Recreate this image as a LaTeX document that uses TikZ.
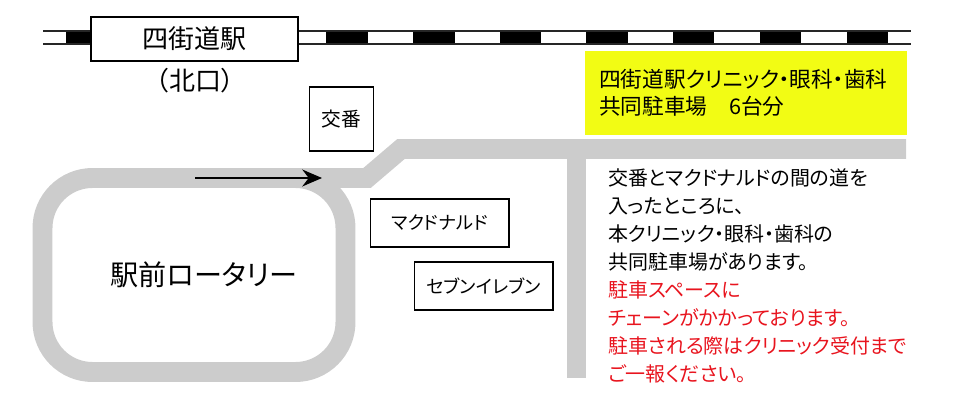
\documentclass[tikz,border=0pt]{standalone}
\usepackage{xcolor}
\usepackage{fontspec}
\setmainfont[RawFeature=+palt]{Noto Sans CJK JP}
\usetikzlibrary{arrows.meta}
\definecolor{roadgray}{HTML}{CCCCCC}
\definecolor{parkyellow}{HTML}{F2FC14}
\definecolor{noticered}{HTML}{E8141E}
\tikzset{
    road/.style={draw=roadgray, line width=14.2pt, line join=miter},
    shopbox/.style={draw, fill=white, line width=1.4pt, inner sep=0pt, align=center},
    rail/.style={draw=black!85, line width=1.2pt},
    info/.style={anchor=north west, inner sep=0pt, align=left},
}
\begin{document}
\begin{tikzpicture}[x=0.025cm, y=-0.025cm]
        \useasboundingbox (0,0) rectangle (960,400);
        %KOORDINAT
        \coordinate (railL1) at (43,31);
        \coordinate (railR1) at (911,31);
        \coordinate (railL2) at (43,44);
        \coordinate (railR2) at (911,44);
        \coordinate (roadA) at (300,178);
        \coordinate (roadB) at (367,178);
        \coordinate (roadC) at (401,149);
        \coordinate (roadD) at (906,149);
        \coordinate (sideA) at (576.5,149);
        \coordinate (sideB) at (576.5,378);
        \coordinate (arrowA) at (195,178);
        \coordinate (arrowB) at (322,178);
        %rel
        \foreach \x/\w in {66/25,326/42,413/42,500/41,586/42,673/41,760/41,847/41}{
            \fill[black] (\x,31) rectangle ++(\w,13);
        }
        \draw[rail] (railL1) -- (railR1);
        \draw[rail] (railL2) -- (railR2);
        %jalan
        \draw[road, rounded corners=1.25cm] (42.5,178) rectangle (345.5,372);
        \draw[road] (roadA) -- (roadB) -- (roadC) -- (roadD);
        \draw[road] (sideA) -- (sideB);
        \draw[line width=1.4pt, -{Stealth[length=14pt, width=12pt]}] (arrowA) -- (arrowB);
        %kotak
        \node[shopbox, minimum width=5.15cm, minimum height=1.08cm, font=\fontsize{18.5}{22}\selectfont] (eki) at (194.5,39) {四街道駅};
        \node[font=\fontsize{18.5}{22}\selectfont] (kita) at (195,81) {（北口）};
        \node[shopbox, minimum width=1.6cm, minimum height=1.58cm, font=\fontsize{14}{17}\selectfont] (koban) at (341.5,119) {交番};
        \node[shopbox, minimum width=3.45cm, minimum height=1.2cm, font=\fontsize{13}{16}\selectfont] (mac) at (439.5,223) {マクドナルド};
        \node[shopbox, minimum width=3.45cm, minimum height=1.2cm, font=\fontsize{13}{16}\selectfont] (seven) at (483.5,286) {セブンイレブン};
        \node[font=\fontsize{20}{24}\selectfont] (rotary) at (204,275) {駅前ロータリー};
        \node[fill=parkyellow, minimum width=8.05cm, minimum height=2.1cm, inner sep=0pt] (park) at (746,93) {};
        \node[info, font=\fontsize{15.4}{19.2}\selectfont] (parktxt) at (599,69) {四街道駅クリニック・眼科・歯科\\共同駐車場　6台分};
        %teks
        \node[info, font=\fontsize{14.2}{19.9}\selectfont] (note) at (608,168) {交番とマクドナルドの間の道を\\入ったところに、\\本クリニック・眼科・歯科の\\共同駐車場があります。};
        \node[info, text=noticered, font=\fontsize{14.2}{19.9}\selectfont] (warn) at (608,280) {駐車スペースに\\チェーンがかかっております。\\駐車される際はクリニック受付まで\\ご一報ください。};
    \end{tikzpicture}
\end{document}
